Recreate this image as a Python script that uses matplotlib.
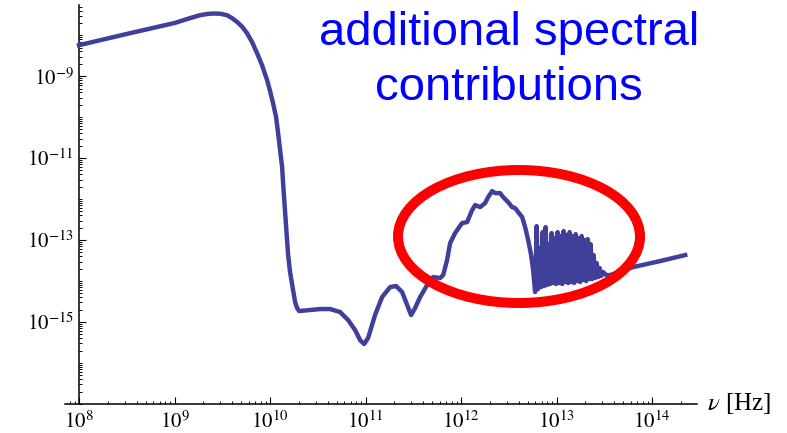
import matplotlib
matplotlib.use("Agg")
import matplotlib.pyplot as plt
from matplotlib.patches import Ellipse
from matplotlib.ticker import FixedLocator, LogLocator, NullFormatter

plt.rcParams["font.family"] = ["Liberation Serif", "DejaVu Serif"]
plt.rcParams["mathtext.fontset"] = "stix"

# spectrum, stored as log10 of frequency (Hz) and log10 of the spectral value
log_nu = [
    8.000, 8.534, 9.005, 9.141, 9.267, 9.340, 9.403, 9.476, 9.550, 9.602,
    9.654, 9.707, 9.759, 9.812, 9.864, 9.916, 9.969, 10.000, 10.031, 10.063,
    10.084, 10.105, 10.126, 10.141, 10.157, 10.173, 10.188, 10.209, 10.230, 10.262,
    10.283, 10.304, 10.419, 10.524, 10.628, 10.733, 10.817, 10.890, 10.942, 10.984,
    11.026, 11.099, 11.173, 11.257, 11.319, 11.382, 11.435, 11.476, 11.518, 11.571,
    11.644, 11.707, 11.780, 11.812, 11.853, 11.885, 11.937, 12.010, 12.063, 12.115,
    12.147, 12.199, 12.251, 12.283, 12.325, 12.356, 12.408, 12.440, 12.492, 12.534,
    12.565, 12.597, 12.639, 12.670, 12.702, 12.733, 12.754,
    # noisy band
    12.775, 12.791, 12.806, 12.822, 12.838, 12.853, 12.869, 12.885, 12.901, 12.916,
    12.932, 12.948, 12.963, 12.979, 12.995, 13.010, 13.026, 13.042, 13.058, 13.073,
    13.089, 13.105, 13.120, 13.136, 13.152, 13.168, 13.183, 13.199, 13.215, 13.230,
    13.246, 13.262, 13.277, 13.293, 13.309, 13.325, 13.340, 13.356, 13.372, 13.387,
    13.403, 13.419, 13.435, 13.450, 13.466, 13.487, 13.518, 13.560,
    # high-frequency tail
    13.801, 14.084, 14.346,
]
log_s = [
    -8.244, -7.951, -7.700, -7.598, -7.512, -7.483, -7.471, -7.476, -7.512, -7.585,
    -7.676, -7.793, -7.951, -8.171, -8.439, -8.732, -9.098, -9.366, -9.659, -10.000,
    -10.390, -10.805, -11.220, -11.780, -12.317, -12.854, -13.341, -13.780, -14.073, -14.512,
    -14.659, -14.732, -14.707, -14.683, -14.683, -14.756, -14.951, -15.195, -15.439, -15.537,
    -15.390, -14.829, -14.390, -14.146, -14.122, -14.268, -14.585, -14.829, -14.659, -14.390,
    -14.098, -13.902, -13.927, -13.854, -13.488, -13.073, -12.829, -12.585, -12.561, -12.268,
    -12.146, -12.195, -12.098, -11.951, -11.805, -11.854, -11.854, -11.951, -12.073, -12.195,
    -12.220, -12.317, -12.439, -12.683, -13.000, -13.366, -13.732,
    -14.268, -12.659, -14.195, -13.195, -14.146, -12.805, -14.122, -12.683, -14.098, -13.098,
    -14.073, -12.829, -14.049, -12.951, -14.073, -12.805, -14.049, -12.902, -14.073, -12.780,
    -14.024, -12.878, -14.049, -12.805, -14.024, -12.902, -14.049, -12.854, -14.000, -12.951,
    -14.024, -12.902, -13.976, -13.000, -14.000, -12.976, -13.951, -13.098, -13.951, -13.366,
    -13.927, -13.561, -13.902, -13.683, -13.878, -13.780, -13.854, -13.854,
    -13.659, -13.512, -13.366,
]

x_tick_exp = [8, 9, 10, 11, 12, 13, 14]
y_tick_exp = [-9, -11, -13, -15]

nu = [10 ** v for v in log_nu]
s = [10 ** v for v in log_s]

fig = plt.figure(figsize=(7.87, 4.33), dpi=100)
ax = fig.add_axes([0.0826, 0.067, 0.8031, 0.921])

ax.plot(nu, s, color="#40409a", lw=3.2, solid_joinstyle="round", zorder=3)

ax.set_xscale("log")
ax.set_yscale("log")
ax.set_xlim(10 ** 7.853, 10 ** 14.47)
ax.set_ylim(1e-17, 10 ** -7.268)

# Mathematica-like axes: y axis sits at 10^8, no box
ax.spines["top"].set_visible(False)
ax.spines["right"].set_visible(False)
ax.spines["left"].set_position(("data", 1e8))
for side in ["left", "bottom"]:
    ax.spines[side].set_linewidth(1.1)

ax.xaxis.set_major_locator(FixedLocator([10.0 ** e for e in x_tick_exp]))
ax.set_xticklabels([r"$10^{%d}$" % e for e in x_tick_exp])
ax.xaxis.set_minor_locator(LogLocator(base=10, subs=range(1, 10), numticks=50))
ax.xaxis.set_minor_formatter(NullFormatter())

ax.yaxis.set_major_locator(FixedLocator([10.0 ** e for e in y_tick_exp]))
ax.set_yticklabels([r"$10^{%d}$" % e for e in y_tick_exp])
ax.yaxis.set_minor_locator(LogLocator(base=10, subs=range(1, 10), numticks=50))
ax.yaxis.set_minor_formatter(NullFormatter())

ax.tick_params(which="major", direction="in", length=5, width=0.8, labelsize=15)
ax.tick_params(which="minor", direction="in", length=2.5, width=0.7)
ax.tick_params(axis="x", which="major", pad=5)
ax.tick_params(axis="y", which="major", pad=4)

fig.text(707 / 787, 1 - 410 / 433, r"$\nu$ [Hz]", fontsize=18,
         ha="left", va="baseline")

# highlight ring and caption
ring = Ellipse((519 / 787, 1 - 236.5 / 433), 242 / 787, 133 / 433,
               transform=fig.transFigure, fill=False, edgecolor="#ff0000",
               lw=7.2, zorder=5)
fig.add_artist(ring)

fig.text(509 / 787, 1 - 45 / 433, "additional spectral", color="#0000ff",
         fontsize=34, family="Liberation Sans", ha="center", va="baseline")
fig.text(509 / 787, 1 - 100 / 433, "contributions", color="#0000ff",
         fontsize=34, family="Liberation Sans", ha="center", va="baseline")

fig.savefig("out.png", dpi=100)
